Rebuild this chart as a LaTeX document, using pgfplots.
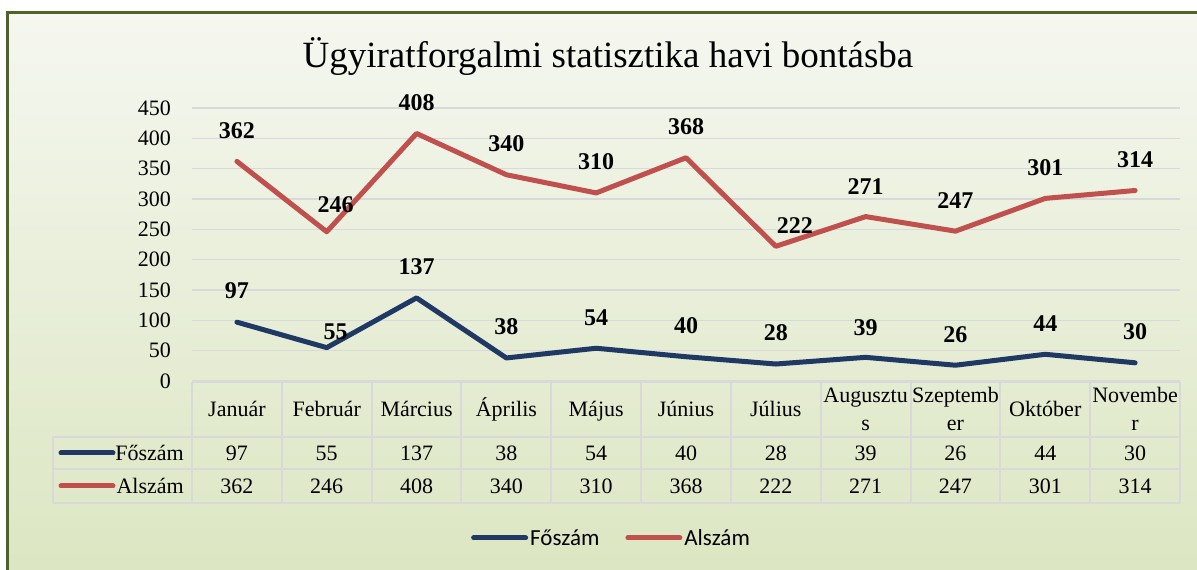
\documentclass[border=0pt]{standalone}
\usepackage{fontspec}
\setmainfont{Liberation Serif}
\newfontfamily\carlito{Carlito}
\usepackage{pgfplots}
\usepackage{pgfplotstable}
\pgfplotsset{compat=1.18}
\definecolor{fo}{HTML}{1F3864}
\definecolor{al}{HTML}{C0504D}
\definecolor{gridc}{HTML}{D9D9D9}
\definecolor{framec}{HTML}{4F6228}
\definecolor{bgtop}{HTML}{F5F7F0}
\definecolor{bgbot}{HTML}{DCE6C2}

% fdx,fdy / adx,ady: label offsets (pt) of the Főszám / Alszám data labels
\pgfplotstableread{
x fo al fdx fdy adx ady
0 97 362 0 31 0 31
1 55 246 9 16 9 27
2 137 408 0 31 0 31
3 38 340 0 31 0 31
4 54 310 0 31 0 31
5 40 368 0 31 0 31
6 28 222 0 31 19 21
7 39 271 0 30 0 30
8 26 247 0 31 0 31
9 44 301 0 31 0 31
10 30 314 0 31 0 31
}\datatable

\begin{document}
\begin{tikzpicture}[x=1pt,y=1pt]
\path[use as bounding box] (0,0) rectangle (1197,570);
\fill[white] (0,0) rectangle (1197,570);
\shade[top color=bgtop, bottom color=bgbot] (7,0) rectangle (1197,557);
\draw[framec, line width=3pt] (7,0) -- (7,557) -- (1197,557);
% title
\node[font=\fontsize{37}{42}\selectfont] at (608,513) {Ügyiratforgalmi statisztika havi bontásba};
% data table grid
\foreach \k in {0,...,11} {
  \draw[gridc, line width=2pt] ({192+\k*89.82},188) -- ({192+\k*89.82},67);
}
\draw[gridc, line width=2pt] (53,133) -- (53,67);
\draw[gridc, line width=2pt] (192,188) -- (1180,188);
\draw[gridc, line width=2pt] (53,133) -- (1180,133);
\draw[gridc, line width=2pt] (53,101) -- (1180,101);
\draw[gridc, line width=2pt] (53,67) -- (1180,67);
% row legend keys
\draw[fo, line width=5pt, line cap=round] (61,117) -- (113,117);
\draw[al, line width=5pt, line cap=round] (61,84) -- (113,84);
\node[anchor=east, inner sep=0pt, font=\fontsize{22}{26}\selectfont] at (184,117) {Főszám};
\node[anchor=east, inner sep=0pt, font=\fontsize{22}{26}\selectfont] at (184,84) {Alszám};
\begin{axis}[
  at={(192pt,189pt)}, anchor=south west,
  scale only axis, width=988pt, height=273pt,
  xmin=-0.5, xmax=10.5, ymin=0, ymax=450,
  ytick={0,50,...,450},
  xtick={0,...,10},
  xticklabels={Január\strut,Február\strut,Március\strut,Április\strut,Május\strut,Június\strut,Július\strut,{Augusztu\strut\\s\strut},{Szeptemb\strut\\er\strut},Október\strut,{Novembe\strut\\r\strut}},
  axis line style={draw=none},
  major tick style={draw=none},
  ymajorgrids, grid style={gridc, line width=1.5pt},
  clip=false,
  /pgf/number format/assume math mode=true,
  tick label style={font=\fontsize{22}{28}\selectfont},
  yticklabel style={anchor=east, inner sep=0pt, xshift=-21pt},
  xticklabel style={anchor=center, align=center, inner sep=0pt, yshift=-29.5pt},
  legend style={at={(0.4246,-0.575)}, anchor=center, draw=none, fill=none,
    font=\carlito\fontsize{23}{28}\selectfont,
    /tikz/every even column/.append style={column sep=24pt}},
  legend columns=2,
  legend image code/.code={\draw[#1, line cap=round] (0pt,0pt) -- (52pt,0pt);},
]
\addplot[fo, line width=5pt, line cap=round, line join=round, mark=none,
  nodes near coords,
  visualization depends on={\thisrow{fdx} \as \ldx},
  visualization depends on={\thisrow{fdy} \as \ldy},
  every node near coord/.style={anchor=center, xshift=\ldx pt, yshift=\ldy pt, text=black, font=\bfseries\fontsize{24}{28}\selectfont}]
  table[x=x, y=fo] \datatable;
\addlegendentry{Főszám}
\addplot[al, line width=5pt, line cap=round, line join=round, mark=none,
  nodes near coords,
  visualization depends on={\thisrow{adx} \as \ldx},
  visualization depends on={\thisrow{ady} \as \ldy},
  every node near coord/.style={anchor=center, xshift=\ldx pt, yshift=\ldy pt, text=black, font=\bfseries\fontsize{24}{28}\selectfont}]
  table[x=x, y=al] \datatable;
\addlegendentry{Alszám}
\addplot[draw=none, mark=none, forget plot, nodes near coords, point meta=explicit,
  every node near coord/.style={anchor=center, inner sep=0pt, text=black, font=\fontsize{22}{26}\selectfont}]
  table[x=x, y expr=-118.7, meta=fo] \datatable;
\addplot[draw=none, mark=none, forget plot, nodes near coords, point meta=explicit,
  every node near coord/.style={anchor=center, inner sep=0pt, text=black, font=\fontsize{22}{26}\selectfont}]
  table[x=x, y expr=-173.1, meta=al] \datatable;
\end{axis}
\end{tikzpicture}
\end{document}
